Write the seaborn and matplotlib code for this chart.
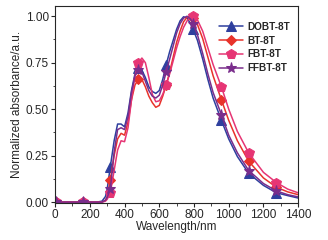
import numpy as np
import pandas as pd
import matplotlib
matplotlib.use("Agg")
import matplotlib.pyplot as plt
from matplotlib.ticker import MultipleLocator
import seaborn as sns

wavelength = [5, 80, 160, 240, 270, 290, 300, 318, 340, 360, 380, 400, 420, 440,
              460, 480, 500, 520, 540, 560, 580, 600, 620, 640, 660, 680, 700,
              720, 740, 760, 780, 795, 820, 850, 880, 910, 958, 1000, 1050,
              1115, 1200, 1275, 1340, 1400]

dobt = [0, 0, 0, 0, 0.005, 0.03, 0.07, 0.19, 0.33, 0.42, 0.42, 0.405, 0.48, 0.60,
        0.69, 0.72, 0.71, 0.67, 0.62, 0.595, 0.585, 0.60, 0.66, 0.74, 0.81, 0.87,
        0.93, 0.975, 0.997, 0.99, 0.96, 0.93, 0.87, 0.77, 0.66, 0.56, 0.44, 0.34,
        0.245, 0.155, 0.09, 0.05, 0.035, 0.022]

bt = [0, 0, 0, 0, 0, 0.01, 0.03, 0.12, 0.25, 0.34, 0.37, 0.36, 0.43, 0.55,
      0.63, 0.66, 0.66, 0.62, 0.57, 0.535, 0.51, 0.52, 0.57, 0.63, 0.70, 0.78,
      0.86, 0.92, 0.97, 0.995, 1.0, 0.99, 0.955, 0.88, 0.78, 0.68, 0.55, 0.44,
      0.33, 0.22, 0.13, 0.08, 0.055, 0.04]

fbt = [0, 0, 0, 0, 0, 0.005, 0.015, 0.05, 0.17, 0.28, 0.33, 0.325, 0.40, 0.55,
       0.68, 0.75, 0.775, 0.75, 0.67, 0.58, 0.54, 0.545, 0.58, 0.63, 0.69, 0.76,
       0.83, 0.89, 0.94, 0.975, 0.995, 1.0, 0.98, 0.92, 0.83, 0.74, 0.62, 0.50,
       0.38, 0.265, 0.16, 0.105, 0.07, 0.05]

ffbt = [0, 0, 0, 0, 0, 0.01, 0.025, 0.07, 0.27, 0.39, 0.40, 0.39, 0.46, 0.59,
        0.68, 0.71, 0.70, 0.65, 0.60, 0.57, 0.56, 0.575, 0.63, 0.70, 0.77, 0.84,
        0.91, 0.96, 0.99, 1.0, 0.985, 0.96, 0.90, 0.80, 0.69, 0.59, 0.47, 0.36,
        0.265, 0.17, 0.10, 0.06, 0.04, 0.028]

marker_x = [5, 160, 318, 480, 640, 795, 958, 1115, 1275]
mark_idx = [wavelength.index(v) for v in marker_x]

sns.set_style("ticks")
plt.rcParams['font.family'] = ['Liberation Sans', 'DejaVu Sans']
plt.rcParams['xtick.direction'] = 'out'
plt.rcParams['ytick.direction'] = 'out'

fig, ax = plt.subplots(figsize=(3.28, 2.40), dpi=100)
fig.subplots_adjust(left=0.168, right=0.909, bottom=0.154, top=0.975)

series = [("DOBT-8T", dobt, "#2e3f9e", "^", 6.5),
          ("BT-8T", bt, "#e8332b", "D", 5.0),
          ("FBT-8T", fbt, "#e63574", "p", 7.0),
          ("FFBT-8T", ffbt, "#7a2d8c", "*", 8.0)]

for name, vals, color, mk, ms in series:
    df = pd.DataFrame({"wl": wavelength, "abs": vals})
    sns.lineplot(data=df, x="wl", y="abs", ax=ax, color=color, linewidth=1.1,
                 marker=mk, markersize=ms, markevery=mark_idx,
                 markeredgecolor=color, label=name)

ax.set_xlim(0, 1400)
ax.set_ylim(-0.005, 1.055)
ax.xaxis.set_major_locator(MultipleLocator(200))
ax.xaxis.set_minor_locator(MultipleLocator(100))
ax.yaxis.set_major_locator(MultipleLocator(0.25))
ax.yaxis.set_minor_locator(MultipleLocator(0.125))
ax.yaxis.set_major_formatter(matplotlib.ticker.FormatStrFormatter('%.2f'))
ax.tick_params(which='major', length=3, width=0.8, labelsize=8.5, pad=1.5)
ax.tick_params(which='minor', length=1.8, width=0.6)
for sp in ax.spines.values():
    sp.set_linewidth(0.8)
    sp.set_visible(True)

ax.set_xlabel("Wavelength/nm", fontsize=8.5, labelpad=0)
ax.set_ylabel("Normalized absorbance/a.u.", fontsize=8.5, labelpad=2)

ax.legend(loc="upper right", bbox_to_anchor=(0.99, 0.95), frameon=False,
          prop={"weight": "bold", "size": 7.2}, handlelength=2.4,
          handletextpad=0.35, labelspacing=0.38, borderaxespad=0.2)

fig.savefig("out.png", dpi=100)
